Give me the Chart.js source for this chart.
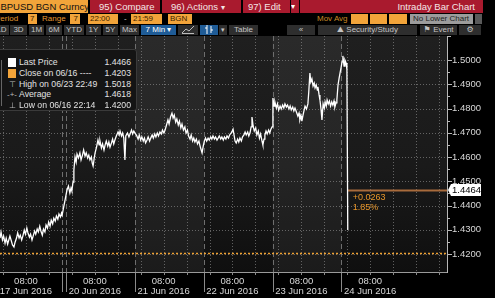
<!DOCTYPE html>
<html>
<head>
<meta charset="utf-8">
<script src="https://cdn.jsdelivr.net/npm/chart.js@4.4.0/dist/chart.umd.min.js"></script>
<style>
  body { margin: 0; background: #000; width: 495px; height: 298px; overflow: hidden; position: relative;
         font-family: "Liberation Sans", Arial, sans-serif; }
  .t { position: absolute; white-space: nowrap; overflow: hidden; box-sizing: border-box; }
  .red { top: 0; height: 13px; line-height: 13px; background: #a91a2e; color: #f3e6e6; font-size: 9.5px; padding-left: 9px; }
  .r2 { top: 14px; height: 10px; line-height: 10px; font-size: 8px; }
  .lbl { color: #e89a30; }
  .box { background: #f2a43a; color: #3a2200; padding-left: 2px; }
  .r3 { top: 25px; height: 10px; line-height: 10px; font-size: 8px; background: #2e2e2e; color: #c4c4c4; text-align: center; }
  .blue { background: #1f5c97; color: #fff; }
  #chartBox { position: absolute; left: 0; top: 36px; }
  #legend { position: absolute; left: -4px; top: 49px; width: 141px; height: 62px; background: #141414;
            border: 1px solid #3a3a3a; border-radius: 3px; z-index: 2; box-sizing: border-box; }
  .lr { position: absolute; left: 0; width: 139px; height: 11px; line-height: 11px; font-size: 8.7px; color: #e2e2e2; white-space: nowrap; }
  .lr span { position: absolute; left: 22px; }
  .lr b { position: absolute; right: 5px; font-weight: normal; }
  .ico { position: absolute; left: 11px; top: 1px; width: 8px; height: 9px; }
  .gl { position: absolute; left: 10px; width: 10px; text-align: center; color: #bbb; font-size: 8px; font-style: normal; }
</style>
</head>
<body>

<!-- top toolbar, row 1 -->
<div class="t" style="left:0;top:0;width:88px;height:13px;line-height:13px;background:#f2a43a;color:#111;font-size:9.5px"><span style="margin-left:-7px">GBPUSD BGN Curncy</span></div>
<div class="t red" style="left:90px;width:70px">95) Compare</div>
<div class="t red" style="left:162px;width:79px">96) Actions <span style="font-size:8px">▾</span></div>
<div class="t red" style="left:243px;width:47px;padding-left:5px">97) Edit</div>
<div class="t" style="left:291px;top:0;width:8px;height:13px;line-height:13px;background:#a91a2e;color:#fff;font-size:8px">▾</div>
<div class="t red" style="left:300px;width:183px;text-align:right;padding-right:8px">Intraday Bar Chart</div>

<!-- row 2 -->
<div class="t r2 lbl" style="left:0;width:27px"><span style="margin-left:-5px">Period</span></div>
<div class="t r2 box" style="left:28px;width:9px">7</div>
<div class="t r2 lbl" style="left:42px;width:26px">Range</div>
<div class="t r2 box" style="left:70px;width:10px;text-align:right;padding-right:2px">7</div>
<div class="t r2 box" style="left:88px;width:30px">22:00</div>
<div class="t r2 lbl" style="left:124px;width:5px;color:#ccc">-</div>
<div class="t r2 box" style="left:131px;width:31px">21:59</div>
<div class="t r2 box" style="left:168px;width:24px">BGN</div>
<div class="t r2 lbl" style="left:317px;width:32px;color:#c98a24">Mov Avg</div>
<div class="t r2 box" style="left:351px;width:17px"></div>
<div class="t r2 box" style="left:370px;width:17px"></div>
<div class="t r2 box" style="left:389px;width:18px"></div>
<div class="t r2" style="left:410px;width:63px;background:#9c9c9c;color:#1e1e1e;padding-left:3px">No Lower Chart</div>
<div class="t r2" style="left:475px;width:7px;background:#5a5a5a"></div>

<!-- row 3 -->
<div class="t r3" style="left:0;width:9px"><span style="margin-left:-6px">1D</span></div>
<div class="t r3" style="left:10px;width:17px">3D</div>
<div class="t r3" style="left:29px;width:15px">1M</div>
<div class="t r3" style="left:46px;width:16px">6M</div>
<div class="t r3" style="left:64px;width:20px">YTD</div>
<div class="t r3" style="left:86px;width:15px">1Y</div>
<div class="t r3" style="left:103px;width:15px">5Y</div>
<div class="t r3" style="left:120px;width:19px">Max</div>
<div class="t r3 blue" style="left:141px;width:35px">7 Min ▾</div>
<div class="t r3" style="left:178px;width:20px"><svg width="14" height="9" viewBox="0 0 14 9"><polyline points="1,8 5,4 8,6 13,1" fill="none" stroke="#bbb" stroke-width="1"/><line x1="1" y1="8.5" x2="13" y2="8.5" stroke="#bbb"/></svg></div>
<div class="t r3 blue" style="left:200px;width:18px"><svg width="10" height="9" viewBox="0 0 10 9"><line x1="3" y1="0" x2="3" y2="9" stroke="#fff"/><line x1="7" y1="1" x2="7" y2="8" stroke="#fff"/><line x1="1" y1="3" x2="3" y2="3" stroke="#fff"/><line x1="7" y1="5" x2="9" y2="5" stroke="#fff"/></svg></div>
<div class="t r3" style="left:219px;width:8px;font-size:7px">▾</div>
<div class="t r3" style="left:229px;width:29px">Table</div>
<div class="t r3" style="left:287px;width:28px">«</div>
<div class="t r3" style="left:318px;width:99px">⛰ Security/Study</div>
<div class="t r3" style="left:420px;width:37px;font-family:'DejaVu Sans'">⚑ <span style="font-family:'Liberation Sans'">Event</span></div>
<div class="t r3" style="left:459px;width:22px;font-family:'DejaVu Sans'">⚙</div>

<!-- legend panel -->
<div id="legend">
  <div style="position:absolute;left:4px;top:10px;width:1px;height:46px;background:#666"></div>
  <div class="lr" style="top:7px"><i class="ico" style="background:#fff"></i><span>Last Price</span><b>1.4466</b></div>
  <div class="lr" style="top:18px"><i class="ico" style="background:#f2a43a"></i><span>Close on 06/16 ----</span><b>1.4203</b></div>
  <div class="lr" style="top:28.5px"><i class="gl">⊤</i><span>High on 06/23 22:49</span><b>1.5018</b></div>
  <div class="lr" style="top:39px"><i class="gl">-+-</i><span>Average</span><b>1.4618</b></div>
  <div class="lr" style="top:50px"><i class="gl">⊥</i><span>Low on 06/16 22:14</span><b>1.4200</b></div>
</div>

<div id="chartBox"><canvas id="chart" width="495" height="262"></canvas></div>

<script>
// x = hours since 16 Jun 22:00 (each trading session is 24h, weekend removed)
const jun17 = [[0.94,1.4266],[1.3,1.4291],[1.8,1.4258],[2.2,1.4274],[2.7,1.4245],[3.1,1.4266],[3.6,1.4241],[4.0,1.4258],
  [4.4,1.4274],[4.9,1.4254],[5.3,1.4237],[5.8,1.4229],[6.2,1.4249],[6.7,1.4266],[7.1,1.4287],[7.6,1.4266],[8.0,1.4278],
  [8.5,1.4258],[8.9,1.4274],[9.4,1.4299],[9.8,1.4282],[10.3,1.4307],[10.7,1.4287],[11.2,1.4270],[11.6,1.4282],[12.1,1.4258],
  [12.5,1.4274],[13.0,1.4295],[13.4,1.4282],[13.9,1.4303],[14.3,1.4291],[14.8,1.4315],[15.2,1.4295],[15.7,1.4278],
  [16.1,1.4303],[16.6,1.4291],[17.0,1.4320],[17.5,1.4307],[17.9,1.4332],[18.4,1.4315],[18.8,1.4340],[19.3,1.4324],
  [19.7,1.4348],[20.2,1.4336],[20.6,1.4357],[21.1,1.4344],[21.5,1.4365],[22.0,1.4353],[22.4,1.4369],[22.6,1.4361]];
const jun20 = [[24.3,1.4464],[24.8,1.4480],[25.3,1.4452],[25.7,1.4472],[26.0,1.4460],[26.4,1.4497],[26.7,1.4546],
  [27.1,1.4600],[27.5,1.4579],[27.8,1.4612],[28.3,1.4596],[28.8,1.4617],[29.2,1.4588],[29.7,1.4608],[30.1,1.4629],
  [30.6,1.4604],[31.0,1.4617],[31.5,1.4596],[31.9,1.4608],[32.3,1.4588],[32.8,1.4600],[33.1,1.4575],[33.4,1.4563],
  [33.8,1.4596],[34.1,1.4617],[34.6,1.4641],[35.1,1.4670],[35.5,1.4650],[35.8,1.4666],[36.3,1.4637],[36.7,1.4654],
  [37.2,1.4629],[37.6,1.4650],[38.0,1.4666],[38.5,1.4645],[38.9,1.4662],[39.3,1.4641],[39.8,1.4658],[40.2,1.4674],
  [40.6,1.4654],[41.0,1.4670],[41.5,1.4687],[42.1,1.4703],[42.5,1.4691],[42.8,1.4707],[43.3,1.4687],[43.7,1.4699],
  [44.1,1.4678],[44.5,1.4588],[44.8,1.4687],[45.4,1.4699],[45.9,1.4683],[46.3,1.4695],[46.8,1.4711],[47.2,1.4695],[47.6,1.4707]];
const jun21 = [[48.0,1.4699],[48.5,1.4691],[49.1,1.4674],[49.5,1.4691],[50.0,1.4670],[50.4,1.4683],[50.9,1.4666],
  [51.3,1.4678],[51.7,1.4658],[52.2,1.4670],[52.6,1.4683],[53.1,1.4666],[53.5,1.4678],[54.0,1.4691],[54.4,1.4678],
  [54.9,1.4695],[55.3,1.4683],[55.8,1.4699],[56.2,1.4687],[56.7,1.4703],[57.2,1.4695],[57.6,1.4711],[58.1,1.4699],
  [58.5,1.4711],[59.0,1.4732],[59.5,1.4753],[59.9,1.4736],[60.4,1.4765],[60.9,1.4781],[61.3,1.4761],[61.7,1.4773],
  [62.2,1.4744],[62.6,1.4757],[63.1,1.4732],[63.5,1.4748],[64.0,1.4720],[64.4,1.4736],[64.9,1.4711],[65.4,1.4724],
  [65.8,1.4699],[66.3,1.4711],[66.7,1.4687],[67.2,1.4674],[67.6,1.4691],[68.1,1.4666],[68.5,1.4678],[68.9,1.4662],
  [69.4,1.4674],[69.8,1.4654],[70.3,1.4666],[70.7,1.4645],[71.1,1.4629],[71.4,1.4617]];
const jun22 = [[71.8,1.4645],[72.2,1.4666],[72.6,1.4678],[73.0,1.4666],[73.5,1.4678],[73.9,1.4670],[74.4,1.4683],
  [74.8,1.4674],[75.2,1.4687],[75.7,1.4674],[76.1,1.4683],[76.6,1.4670],[77.0,1.4678],[77.4,1.4687],[77.9,1.4674],
  [78.3,1.4683],[78.8,1.4670],[79.2,1.4683],[79.7,1.4674],[80.1,1.4687],[80.6,1.4678],[81.0,1.4691],[81.5,1.4699],
  [81.9,1.4707],[82.2,1.4715],[82.6,1.4687],[82.9,1.4666],[83.3,1.4658],[83.8,1.4674],[84.2,1.4662],[84.6,1.4678],
  [85.1,1.4666],[85.5,1.4683],[86.0,1.4691],[86.4,1.4703],[86.8,1.4691],[87.3,1.4703],[87.7,1.4687],[88.1,1.4699],
  [88.5,1.4724],[88.8,1.4765],[89.2,1.4728],[89.6,1.4707],[90.1,1.4720],[90.5,1.4691],[91.0,1.4707],[91.4,1.4678],
  [91.8,1.4695],[92.3,1.4666],[92.6,1.4650],[93.0,1.4674],[93.3,1.4691],[93.7,1.4707],[94.1,1.4695],[94.6,1.4711],
  [95.0,1.4699],[95.4,1.4715],[95.8,1.4724]];
const jun23 = [[96.1,1.4843],[96.5,1.4810],[96.8,1.4827],[97.3,1.4802],[97.7,1.4819],[98.1,1.4794],[98.6,1.4810],
  [99.0,1.4798],[99.5,1.4814],[99.9,1.4802],[100.3,1.4819],[100.8,1.4806],[101.2,1.4814],[101.7,1.4798],[102.1,1.4810],
  [102.5,1.4794],[103.0,1.4806],[103.4,1.4790],[103.8,1.4802],[104.3,1.4786],[104.8,1.4769],[105.2,1.4781],
  [105.5,1.4753],[105.9,1.4769],[106.2,1.4748],[106.6,1.4773],[107.0,1.4794],[107.3,1.4810],[107.8,1.4798],
  [108.3,1.4819],[108.6,1.4868],[109.0,1.4946],[109.3,1.4909],[109.7,1.4922],[110.1,1.4893],[110.5,1.4905],
  [110.8,1.4885],[111.2,1.4897],[111.6,1.4876],[111.8,1.4889],[112.2,1.4856],[112.5,1.4835],[112.9,1.4794],
  [113.2,1.4753],[113.6,1.4819],[114.0,1.4802],[114.3,1.4827],[114.7,1.4810],[115.0,1.4835],[115.4,1.4819],
  [115.8,1.4831],[116.2,1.4810],[116.6,1.4827],[117.0,1.4814],[117.4,1.4831],[117.7,1.4806],[118.1,1.4823],
  [118.4,1.4835],[118.8,1.4897],[119.2,1.4926],[119.5,1.4946]];
const jun24 = [[119.9,1.4971],[120.2,1.4992],[120.5,1.5017],[120.9,1.4975],[121.2,1.5000],[121.6,1.4988],
  [121.9,1.4960],[122.2,1.4299]];

const labelHours = [10, 34, 58, 82, 106, 130];
const labelDates = ['17 Jun 2016', '20 Jun 2016', '21 Jun 2016', '22 Jun 2016', '23 Jun 2016', '24 Jun 2016'];
const gridHours = [2, 10, 18, 26, 34, 42, 50, 58, 66, 74, 82, 90, 98, 106, 114, 122, 130, 138, 146, 154];
const sessionBreaks = [22.6, 24, 48, 72, 96, 120];
const shadedSessions = [[48, 72], [96, 120]];
const priceTicks = [1.42, 1.43, 1.44, 1.45, 1.46, 1.47, 1.48, 1.49, 1.50];

const closePrice = 1.4203;
const tagPrice = 1.4464;
const changeText = ['+0.0263', '1.85%'];

const viewStart = 0.94, viewEnd = 156.8;
const priceMin = 1.4126, priceMax = 1.5099;

const points = [...jun17, ...jun20, ...jun21, ...jun22, ...jun23, ...jun24].map(([h, p]) => ({ x: h, y: p }));
const lastHour = jun24[jun24.length - 1][0];

function hline(ctx, x1, x2, y) { ctx.beginPath(); ctx.moveTo(x1, y); ctx.lineTo(x2, y); ctx.stroke(); }
function vline(ctx, x, y1, y2) { ctx.beginPath(); ctx.moveTo(x, y1); ctx.lineTo(x, y2); ctx.stroke(); }

// Bloomberg style background, grid, reference lines
const bbgPlugin = {
  id: 'bbg',
  beforeDraw(chart) {
    const { ctx, chartArea: a, scales: { x, y } } = chart;
    ctx.save();
    const g = ctx.createLinearGradient(0, a.top, 0, a.bottom);
    g.addColorStop(0, '#1f1f1f');
    g.addColorStop(0.55, '#1a1a1a');
    g.addColorStop(1, '#0f0f0f');
    ctx.fillStyle = g;
    ctx.fillRect(a.left, a.top, a.width, a.height);
    ctx.fillStyle = 'rgba(255,255,255,0.05)';
    shadedSessions.forEach(([s, e]) => {
      const x1 = x.getPixelForValue(s), x2 = x.getPixelForValue(e);
      ctx.fillRect(x1, a.top, x2 - x1, a.height);
    });

    // dotted grid
    ctx.lineWidth = 1;
    ctx.strokeStyle = 'rgba(160,160,160,0.55)';
    ctx.setLineDash([1, 2]);
    priceTicks.forEach(v => hline(ctx, a.left, a.right, Math.round(y.getPixelForValue(v)) + 0.5));
    gridHours.forEach(h => vline(ctx, Math.round(x.getPixelForValue(h)) + 0.5, a.top, a.bottom));

    // session separators
    ctx.strokeStyle = '#6e6e6e';
    ctx.setLineDash([5, 3]);
    sessionBreaks.forEach(h => vline(ctx, Math.round(x.getPixelForValue(h)) + 0.5, a.top, a.bottom));
    ctx.setLineDash([]);
    ctx.strokeStyle = '#8a8a8a';
    sessionBreaks.forEach(h => vline(ctx, Math.round(x.getPixelForValue(h)) + 0.5, a.bottom, a.bottom + 20));

    // close on 06/16
    ctx.strokeStyle = '#eea032';
    ctx.lineWidth = 1.5;
    ctx.setLineDash([2, 2]);
    hline(ctx, a.left, a.right, Math.round(y.getPixelForValue(closePrice)) + 0.5);
    ctx.setLineDash([]);

    // last price level
    const ty = Math.round(y.getPixelForValue(tagPrice)) + 0.5;
    ctx.strokeStyle = '#a86b3c';
    ctx.lineWidth = 2;
    hline(ctx, x.getPixelForValue(lastHour), a.right, ty);
    ctx.restore();
  },
  afterDraw(chart) {
    const { ctx, chartArea: a, scales: { x, y } } = chart;
    ctx.save();
    // axis frame
    ctx.strokeStyle = '#b8b8b8';
    ctx.lineWidth = 1;
    vline(ctx, a.right + 0.5, a.top, a.bottom + 1);
    hline(ctx, a.right, a.right + 4, a.top + 0.5);
    ctx.strokeStyle = '#9a9a9a';
    hline(ctx, a.left, a.right, a.bottom + 0.5);
    // axis tick marks
    ctx.strokeStyle = '#b8b8b8';
    priceTicks.forEach(v => hline(ctx, a.right, a.right + 5, Math.round(y.getPixelForValue(v)) + 0.5));
    priceTicks.slice(0, -1).forEach(v => hline(ctx, a.right, a.right + 3, Math.round(y.getPixelForValue(v + 0.005)) + 0.5));
    ctx.strokeStyle = '#8a8a8a';
    gridHours.forEach(h => vline(ctx, Math.round(x.getPixelForValue(h)) + 0.5, a.bottom, a.bottom + 3));

    // change annotation
    const lx = x.getPixelForValue(lastHour) + 5;
    const ty = y.getPixelForValue(tagPrice);
    ctx.fillStyle = '#e8962a';
    ctx.font = '9px "Liberation Sans", Arial, sans-serif';
    ctx.textBaseline = 'middle';
    ctx.textAlign = 'left';
    ctx.fillText(changeText[0], lx, ty + 7);
    ctx.fillText(changeText[1], lx, ty + 17);

    // last price tag
    ctx.fillStyle = '#ffffff';
    ctx.beginPath();
    ctx.moveTo(a.right + 1, ty);
    ctx.lineTo(a.right + 4, ty - 6);
    ctx.lineTo(a.right + 34, ty - 6);
    ctx.lineTo(a.right + 34, ty + 6);
    ctx.lineTo(a.right + 4, ty + 6);
    ctx.closePath();
    ctx.fill();
    ctx.fillStyle = '#000';
    ctx.font = '9.5px "Liberation Sans", Arial, sans-serif';
    ctx.fillText(tagPrice.toFixed(4), a.right + 5, ty + 0.5);
    ctx.restore();
  }
};

Chart.defaults.font.family = '"Liberation Sans", Arial, sans-serif';

new Chart(document.getElementById('chart'), {
  type: 'line',
  data: {
    datasets: [{
      data: points,
      borderColor: '#ffffff',
      borderWidth: 1.3,
      pointRadius: 0,
      tension: 0,
      fill: false
    }]
  },
  options: {
    responsive: false,
    animation: false,
    devicePixelRatio: 1,
    layout: { padding: 0 },
    plugins: { legend: { display: false }, tooltip: { enabled: false } },
    scales: {
      x: {
        type: 'linear',
        min: viewStart,
        max: viewEnd,
        grid: { display: false, drawTicks: false },
        border: { display: false },
        ticks: {
          color: '#d8d8d8',
          font: { size: 9.5, lineHeight: 1.05 },
          padding: 4,
          maxRotation: 0,
          autoSkip: false,
          callback: (v, i) => ['08:00', labelDates[i]]
        },
        afterBuildTicks: s => { s.ticks = labelHours.map(h => ({ value: h })); },
        afterFit: s => { s.height = 26; s.paddingLeft = 0; s.paddingRight = 0; }
      },
      y: {
        type: 'linear',
        position: 'right',
        min: priceMin,
        max: priceMax,
        grid: { display: false, drawTicks: false },
        border: { display: false },
        ticks: {
          color: '#d8d8d8',
          font: { size: 9.5 },
          padding: 5,
          callback: v => v.toFixed(4)
        },
        afterBuildTicks: s => { s.ticks = priceTicks.map(v => ({ value: v })); },
        afterFit: s => { s.width = 48; s.paddingTop = 0; s.paddingBottom = 0; }
      }
    }
  },
  plugins: [bbgPlugin]
});
</script>
</body>
</html>
